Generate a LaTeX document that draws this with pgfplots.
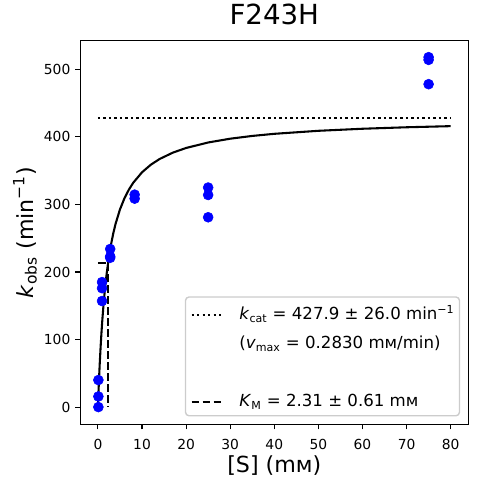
\documentclass[border=0pt]{standalone}
\usepackage{fontspec}
\setmainfont{DejaVu Sans}
\usepackage{pgfplots}
\pgfplotsset{compat=1.18}
\begin{document}
\begin{tikzpicture}
\path[use as bounding box] (0,0) rectangle (4.77in,4.84in);
\begin{axis}[
  at={(0.803in,0.595in)}, anchor=south west,
  width=3.88in, height=3.838in, scale only axis,
  xmin=-4, xmax=84, ymin=-25.8, ymax=542.4,
  xtick={0,10,...,80}, ytick={0,100,...,500},
  tick align=outside, xtick pos=bottom, ytick pos=left,
  major tick length=3.5pt,
  every tick/.style={black, line width=0.8pt},
  axis line style={line width=0.8pt},
  tick label style={font=\fontsize{10}{12}\selectfont, inner sep=0pt},
  /pgf/number format/assume math mode=true,
  xticklabel style={anchor=base, yshift=-14.5pt},
  yticklabel style={anchor=east, xshift=-3.5pt},
  title={F243H},
  title style={font=\fontsize{20}{24}\selectfont, at={(axis description cs:0.5,1.021)}, anchor=base, inner sep=0pt},
  xlabel={[S] (mм)},
  xlabel style={font=\fontsize{16}{19}\selectfont, at={(axis description cs:0.5,-0.124)}, anchor=base, inner sep=0pt},
  ylabel={\textit{k}\textsubscript{obs} (min\textsuperscript{−1})},
  ylabel style={font=\fontsize{16}{19}\selectfont, at={(axis description cs:-0.1217,0.5)}, anchor=base, rotate=0, inner sep=0pt},
  legend image code/.code={\draw[#1] (0pt,-1.4pt) -- (23pt,-1.4pt);},
  legend style={at={(0.979,0.021)}, anchor=south east, draw=black!20, line width=1pt, fill=white,
    rounded corners=2.5pt, font=\fontsize{12}{14.4}\selectfont,
    inner xsep=3.6pt, inner ysep=2.5pt, row sep=2.8pt,
    nodes={inner sep=0pt, text height=14.1pt, text depth=4pt},
    /tikz/every odd column/.append style={column sep=10.8pt}},
  legend cell align=left,
]
\addplot[only marks, mark=*, mark size=3.6pt, draw=blue, fill=blue, mark options={draw=blue, fill=blue, line width=0.4pt}, forget plot] coordinates {
  (0.1,0) (0.1,15.7) (0.1,40)
  (0.93,185) (0.93,176) (0.93,157)
  (2.78,234) (2.78,221) (2.78,223)
  (8.33,314.5) (8.33,308.6)
  (25,325) (25,314) (25,281)
  (75,518) (75,514) (75,478)
};
\addplot[black, line width=1.5pt, forget plot] coordinates {
  (0,0) (0.05,9.07) (0.1,17.76) (0.15,26.09) (0.2,34.10) (0.3,49.18) (0.4,63.16)
  (0.6,88.23) (0.8,110.07) (1.0,129.27) (1.25,150.25) (1.5,168.47) (1.75,184.44)
  (2.0,198.56) (2.5,222.40) (3.0,241.75) (3.5,257.77) (4,271.25) (5,292.68)
  (6,308.95) (7,321.73) (8,332.03) (10,347.60) (12,358.83) (14,367.30)
  (17,376.71) (20,383.59) (25,391.71) (30,397.31) (35,401.41) (40,404.54)
  (50,409.00) (60,412.04) (70,414.23) (80,415.89)
};
\addplot[black, line width=1.5pt, dash pattern=on 1.5pt off 2.475pt, forget plot] coordinates {(0,427.9) (80,427.9)};
\addplot[black, line width=1.5pt, dash pattern=on 5.55pt off 2.4pt, forget plot] coordinates {(0,213.95) (2.31,213.95) (2.31,0)};
\addlegendimage{black, line width=1.5pt, dash pattern=on 1.5pt off 2.475pt}
\addlegendentry{\textit{k}\textsubscript{cat} = 427.9 ± 26.0 min\textsuperscript{−1}}
\addlegendimage{empty legend}
\addlegendentry{(\textit{v}\textsubscript{max} = 0.2830 mм/min)}
\addlegendimage{empty legend}
\addlegendentry{}
\addlegendimage{black, line width=1.5pt, dash pattern=on 5.55pt off 2.4pt}
\addlegendentry{\textit{K}\textsubscript{M} = 2.31 ± 0.61 mм}
\end{axis}
\end{tikzpicture}
\end{document}
